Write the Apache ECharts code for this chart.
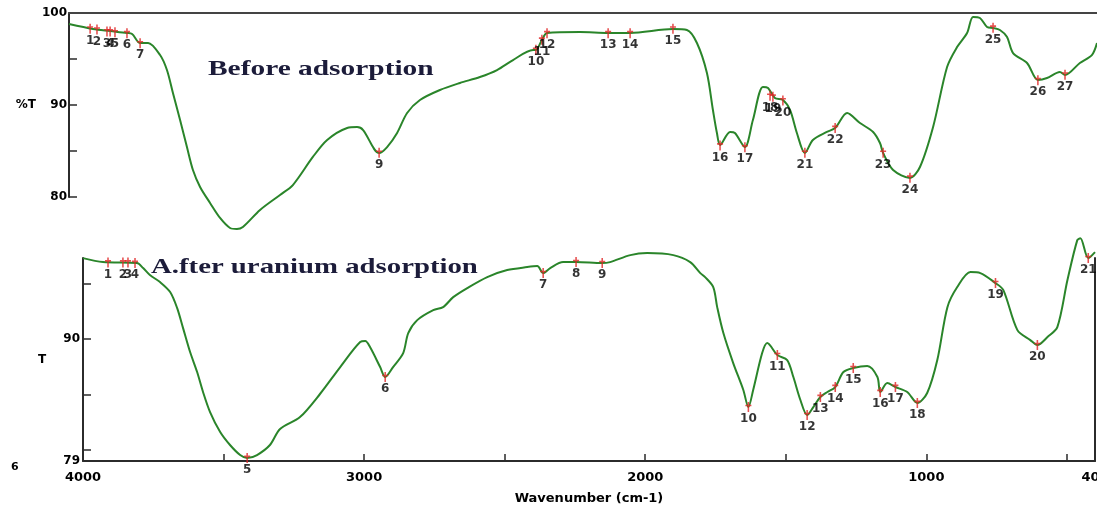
<!DOCTYPE html>
<html><head><meta charset="utf-8">
<script src="https://cdn.jsdelivr.net/npm/echarts@6/dist/echarts.min.js"></script>
<style>html,body{margin:0;padding:0;background:#fff}#c{width:1097px;height:505px}</style>
</head><body><div id="c"></div>
<script>
// Before adsorption spectrum
const topWn = [4000,3916,3856,3797,3779,3751,3723,3681,3657,3636,3611,3587,3566,3541,3506,3471,3436,3412,3391,3331,3261,3216,3146,3096,3026,2991,2970,2914,2886,2851,2816,2771,2701,2631,2561,2501,2445,2375,2365,2344,2326,2210,2112,2035,1885,1836,1801,1766,1745,1731,1720,1685,1668,1633,1605,1570,1552,1528,1500,1475,1451,1423,1395,1346,1317,1275,1230,1184,1160,1149,1114,1055,1020,974,925,890,855,834,810,785,764,740,715,694,645,607,575,530,512,460,418,400];
const topT = [98.8,98.26,98.04,97.83,97.72,96.74,96.74,95.43,93.8,91.3,88.37,85.43,82.93,81.09,79.35,77.72,76.63,76.52,76.74,78.59,80.22,81.3,84.35,86.2,87.5,87.6,87.28,84.78,85.43,86.96,89.13,90.54,91.63,92.39,93.04,93.8,94.89,95.98,95.98,97.07,97.83,97.93,97.83,97.83,98.26,98.15,96.74,93.48,89.46,86.96,85.65,87.07,86.96,85.43,88.37,91.96,91.85,90.76,90.54,89.46,86.96,84.78,86.2,87.07,87.5,89.13,88.04,87.07,85.87,84.78,82.93,82.07,83.26,87.61,94.13,96.3,97.83,99.57,99.46,98.48,98.37,98.15,97.39,95.65,94.57,92.72,92.93,93.59,93.26,94.57,95.43,96.74];
const topPeakNo = [1,2,3,4,5,6,7,9,10,11,12,13,14,15,16,17,18,19,20,21,22,23,24,25,26,27];
const topPeakWn = [3926,3902,3867,3856,3839,3797,3751,2914,2365,2344,2326,2112,2035,1885,1720,1633,1545,1535,1500,1423,1317,1149,1055,764,607,512];
const topPeakT = [98.3,98.2,98.0,98.0,97.9,97.8,96.7,84.8,96.0,97.1,97.8,97.8,97.8,98.3,85.6,85.4,91.0,90.9,90.5,84.8,87.5,84.8,82.1,98.4,92.7,93.3];

// After uranium adsorption spectrum
const botWn = [4000,3929,3808,3786,3762,3726,3690,3665,3644,3619,3594,3573,3548,3512,3477,3441,3416,3381,3335,3299,3228,3157,3085,3014,2996,2979,2943,2925,2897,2861,2843,2811,2754,2719,2683,2633,2562,2491,2420,2384,2363,2338,2292,2246,2153,2125,2053,1993,1900,1840,1804,1787,1758,1744,1722,1687,1651,1633,1616,1584,1566,1530,1495,1473,1448,1424,1402,1377,1352,1324,1295,1260,1210,1174,1164,1139,1110,1068,1032,997,961,925,890,843,808,754,726,676,630,605,569,534,498,463,452,424,400];
const botT = [97.29,96.93,96.84,96.39,95.76,95.13,94.23,92.78,90.98,88.82,87.02,85.22,83.41,81.61,80.44,79.54,79.27,79.54,80.44,81.88,82.96,85.04,87.47,89.72,89.81,89.27,87.47,86.57,87.47,88.73,90.53,91.7,92.6,92.87,93.77,94.59,95.58,96.21,96.48,96.57,95.94,96.39,96.93,96.93,96.84,96.93,97.56,97.74,97.56,96.93,95.94,95.58,94.68,92.87,90.53,87.83,85.4,83.86,85.4,88.73,89.63,88.55,88.1,86.57,84.5,83.14,83.86,84.77,85.22,85.67,87.02,87.38,87.56,86.57,85.22,86.03,85.67,85.22,84.23,85.13,88.1,92.87,94.68,96.03,95.94,95.04,94.41,90.8,89.9,89.45,90.17,91.07,95.31,98.91,99.09,97.29,97.83];
const botPeakNo = [1,2,3,4,5,6,7,8,9,10,11,12,13,14,15,16,17,18,19,20,21];
const botPeakWn = [3911,3858,3840,3815,3416,2925,2363,2246,2153,1633,1530,1424,1377,1324,1260,1164,1110,1032,754,605,424];
const botPeakT = [96.9,96.9,96.9,96.85,79.27,86.57,95.94,96.93,96.84,83.86,88.55,83.14,84.77,85.67,87.38,85.22,85.67,84.23,95.04,89.45,97.29];

// ticks / labels
const xTickVals = [3500,3000,2500,2000,1500,1000,500];
const xLabelVals = [4000,3000,2000,1000,400];
const topYTicks = [80,85,90,95];
const topYLabels = [80,90,100];
const botYTicks = [80,85,90,95];
const botYLabels = [79,90];

const pairs = (a, b) => a.map((v, i) => [v, b[i]]);
const triples = (a, b, c) => a.map((v, i) => [v, b[i], c[i]]);

const AX = '#2b2b2b';
const numFont = {fontFamily: 'DejaVu Sans', fontWeight: 'bold', fontSize: 12, color: '#000'};
const plain = v => String(v);
const marker = 'path://M2,0 L3.4,0 L3.4,10 L2,10 Z M0,2.6 L5.4,2.6 L5.4,4.2 L0,4.2 Z';

const chart = echarts.init(document.getElementById('c'), null, {renderer: 'canvas'});
chart.setOption({
  animation: false,
  backgroundColor: '#fff',
  grid: [
    {left: 69, top: 13, width: 1028, height: 184, containLabel: false, outerBoundsMode: 'none'},
    {left: 83, top: 258, width: 1012, height: 203, containLabel: false, outerBoundsMode: 'none'}
  ],
  xAxis: [
    {gridIndex: 0, type: 'value', inverse: true, min: 400, max: 4000, position: 'top',
     axisLine: {show: true, lineStyle: {color: '#444', width: 2}},
     axisTick: {show: false}, axisLabel: {show: false}, splitLine: {show: false}},
    {gridIndex: 1, type: 'value', inverse: true, min: 400, max: 4000, position: 'bottom',
     name: 'Wavenumber (cm-1)', nameLocation: 'middle', nameGap: 31,
     nameTextStyle: {fontFamily: 'DejaVu Sans', fontWeight: 'bold', fontSize: 13, color: '#000'},
     axisLine: {show: true, lineStyle: {color: AX, width: 2}},
     axisTick: {show: true, inside: true, length: 7, customValues: xTickVals, lineStyle: {color: AX, width: 1.5}},
     axisLabel: Object.assign({}, numFont, {margin: 10, customValues: xLabelVals, fontSize: 13, formatter: plain, hideOverlap: false}),
     splitLine: {show: false}}
  ],
  yAxis: [
    {gridIndex: 0, type: 'value', min: 80, max: 100,
     name: '%T', nameLocation: 'middle', nameGap: 33, nameRotate: 0,
     nameTextStyle: {fontFamily: 'DejaVu Sans', fontWeight: 'bold', fontSize: 12, color: '#000', align: 'center'},
     axisLine: {show: true, lineStyle: {color: AX, width: 2}},
     axisTick: {show: true, inside: true, length: 8, customValues: topYTicks, lineStyle: {color: AX, width: 1.5}},
     axisLabel: Object.assign({}, numFont, {margin: 2, customValues: topYLabels, formatter: plain}),
     splitLine: {show: false}},
    {gridIndex: 1, type: 'value', min: 79, max: 97.3,
     name: 'T', nameLocation: 'middle', nameGap: 41, nameRotate: 0,
     nameTextStyle: {fontFamily: 'DejaVu Sans', fontWeight: 'bold', fontSize: 12, color: '#000', align: 'center'},
     axisLine: {show: true, lineStyle: {color: AX, width: 2}},
     axisTick: {show: true, inside: true, length: 8, customValues: botYTicks, lineStyle: {color: AX, width: 1.5}},
     axisLabel: Object.assign({}, numFont, {margin: 3, customValues: botYLabels, formatter: plain}),
     splitLine: {show: false}},
    {gridIndex: 1, type: 'value', min: 79, max: 97.3, position: 'right',
     axisLine: {show: true, lineStyle: {color: AX, width: 2}},
     axisTick: {show: false}, axisLabel: {show: false}, splitLine: {show: false}}
  ],
  series: [
    {type: 'line', name: 'Before adsorption', xAxisIndex: 0, yAxisIndex: 0, data: pairs(topWn, topT),
     showSymbol: false, smooth: 0.3, clip: false, lineStyle: {color: '#2a852a', width: 2}, z: 2},
    {type: 'line', name: 'After uranium adsorption', xAxisIndex: 1, yAxisIndex: 1, data: pairs(botWn, botT),
     showSymbol: false, smooth: 0.3, clip: false, lineStyle: {color: '#2a852a', width: 2}, z: 2},
    {type: 'scatter', xAxisIndex: 0, yAxisIndex: 0, data: triples(topPeakWn, topPeakT, topPeakNo),
     symbol: marker, symbolSize: [6, 10], itemStyle: {color: '#e02424'}, clip: false, z: 3,
     label: Object.assign({}, numFont, {show: true, position: 'bottom', distance: 1, formatter: p => String(p.value[2])})},
    {type: 'scatter', xAxisIndex: 1, yAxisIndex: 1, data: triples(botPeakWn, botPeakT, botPeakNo),
     symbol: marker, symbolSize: [6, 10], itemStyle: {color: '#e02424'}, clip: false, z: 3,
     label: Object.assign({}, numFont, {show: true, position: 'bottom', distance: 1, formatter: p => String(p.value[2])})}
  ],
  graphic: [
    {type: 'text', x: 208, y: 70, scaleX: 1.4, z: 10,
     style: {text: 'Before adsorption', font: 'bold 21px "Liberation Serif"', fill: '#1c1c3a', verticalAlign: 'middle'}},
    {type: 'text', x: 151, y: 268, scaleX: 1.37, z: 10,
     style: {text: 'A.fter uranium adsorption', font: 'bold 21px "Liberation Serif"', fill: '#1c1c3a', verticalAlign: 'middle'}},
    {type: 'text', x: 11, y: 467, z: 10,
     style: {text: '6', font: 'bold 11px "DejaVu Sans"', fill: '#000', verticalAlign: 'middle'}}
  ]
});
</script></body></html>
